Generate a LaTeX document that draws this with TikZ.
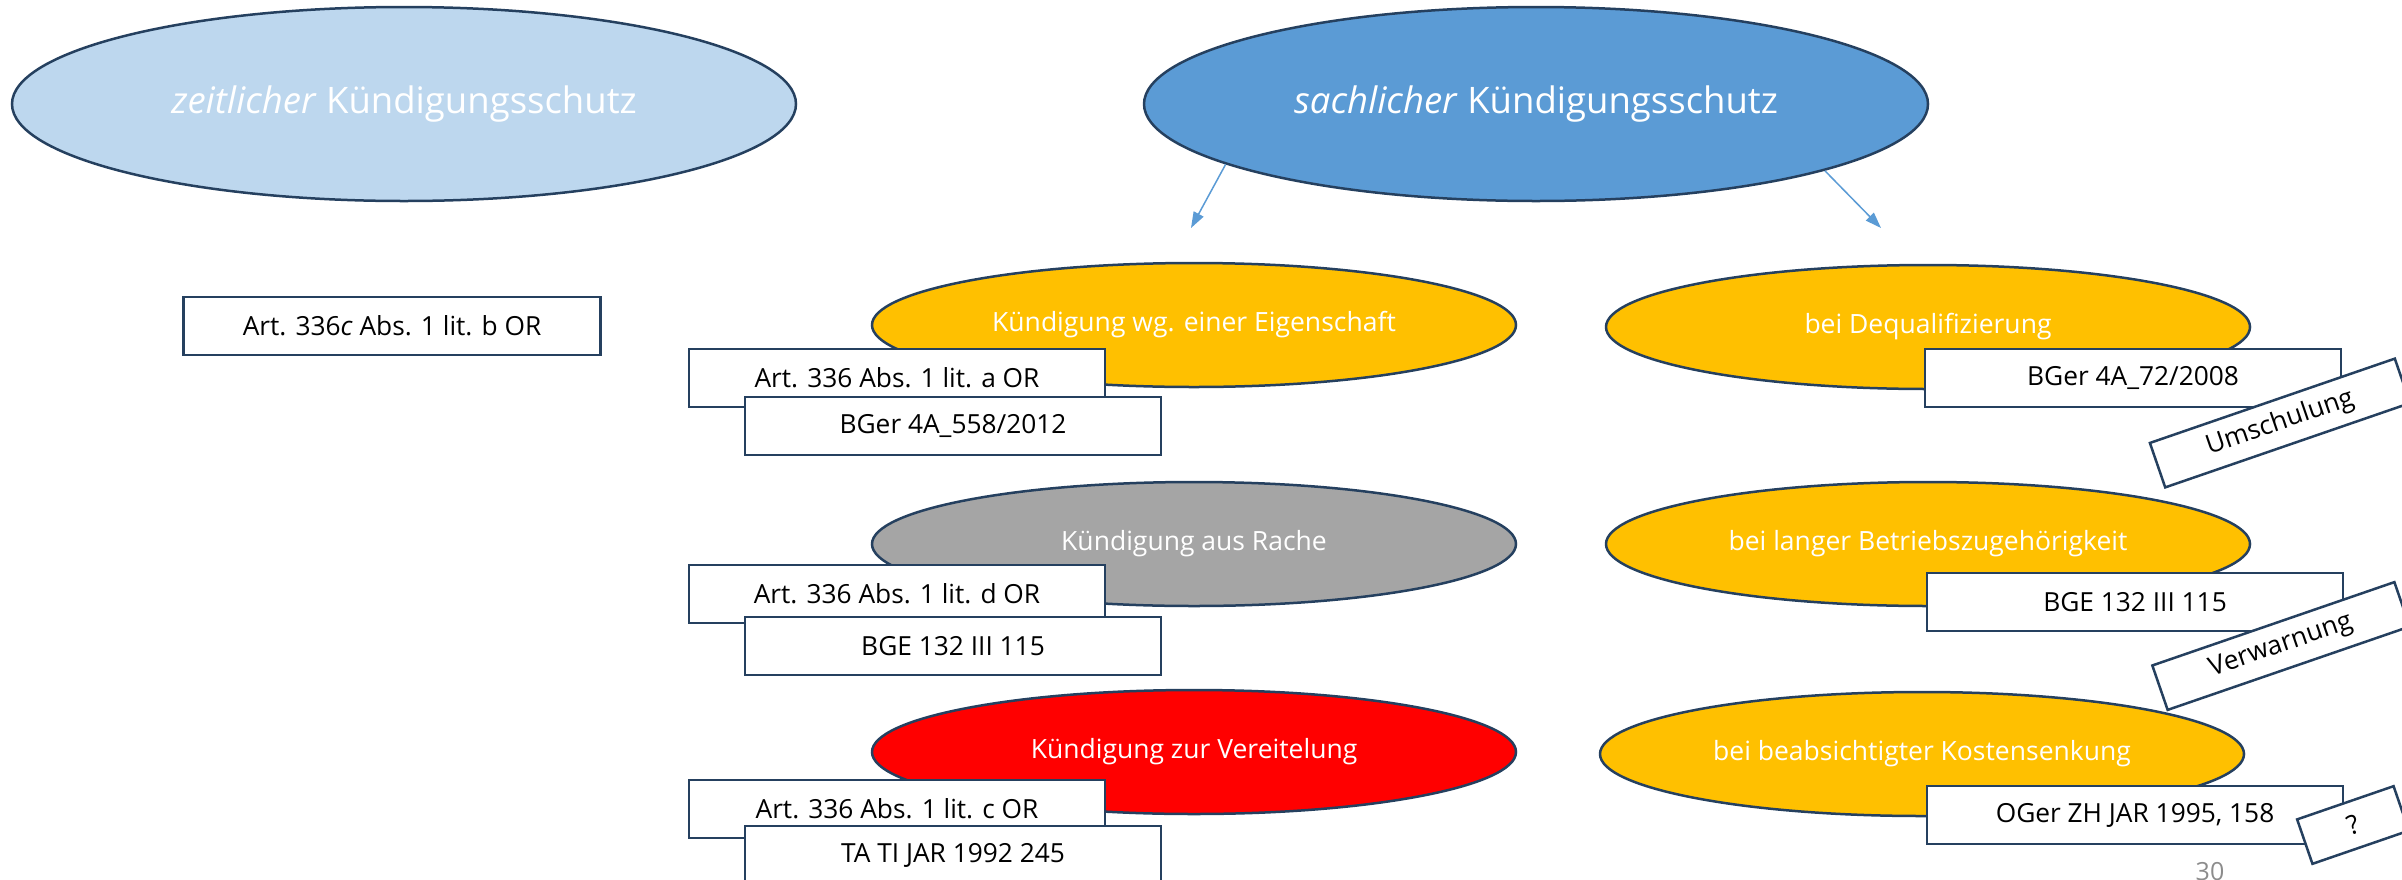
\documentclass[tikz,border=0pt]{standalone}
\usepackage{fontspec}
\setmainfont{Open Sans}
\usetikzlibrary{arrows.meta, shapes.geometric}
\definecolor{cnavy}{HTML}{25405F}
\definecolor{clight}{HTML}{BDD7EE}
\definecolor{cblue}{HTML}{5B9BD5}
\definecolor{cgold}{HTML}{FFC000}
\definecolor{cgrey}{HTML}{A5A5A5}
\definecolor{cred}{HTML}{FF0000}
\definecolor{cnum}{HTML}{8C8C8C}
\tikzset{
  every picture/.style={line width=2.5pt},
  head/.style={ellipse, draw=cnavy, fill=#1, text=white, minimum width=784pt, minimum height=194pt, inner sep=0pt, font=\fontsize{36.5}{44}\selectfont},
  case/.style={ellipse, draw=cnavy, fill=#1, text=white, minimum width=644pt, minimum height=124pt, inner sep=0pt, font=\fontsize{26.5}{32}\selectfont},
  case/.default=cgold,
  ref/.style={draw=cnavy, fill=white, minimum width=#1, minimum height=58pt, inner sep=0pt, font=\fontsize{26.3}{32}\selectfont},
  ref/.default=416pt,
  tag/.style={draw=cnavy, fill=white, rotate=19, minimum width=#1, minimum height=47pt, inner sep=0pt, font=\fontsize{26.3}{32}\selectfont},
  arrow/.style={-{Triangle[length=16pt, width=11pt]}, draw=cblue, line width=1.5pt},
}

\begin{document}
\begin{tikzpicture}[x=1pt, y=-1pt]
  \useasboundingbox (0,0) rectangle (2402,879);
  % the two kinds of protection
  \node[head=clight] (zeit) at (404,104) {\textit{zeitlicher} Kündigungsschutz};
  \node[head=cblue] (sach) at (1536,104) {\textit{sachlicher} Kündigungsschutz};
  \coordinate (lend) at (1191,228);
  \coordinate (rend) at (1881,228);
  \draw[arrow] (sach.191) -- (lend);
  \draw[arrow] (sach.347) -- (rend);

  \node[ref=417pt] (zeitart) at (392,326) {Art. 336\textit{c} Abs. 1 lit. b OR};

  % left column
  \node[case] (eigen) at (1194,325) {Kündigung wg. einer Eigenschaft};
  \node[ref] (eigenart) at (897,378) {Art. 336 Abs. 1 lit. a OR};
  \node[ref] (eigenbg) at (953,426) {BGer 4A\_558/2012};

  \node[case=cgrey] (rache) at (1194,544) {Kündigung aus Rache};
  \node[ref] (racheart) at (897,594) {Art. 336 Abs. 1 lit. d OR};
  \node[ref] (rachebg) at (953,646) {BGE 132 III 115};

  \node[case=cred] (verei) at (1194,752) {Kündigung zur Vereitelung};
  \node[ref] (vereiart) at (897,809) {Art. 336 Abs. 1 lit. c OR};
  \node[ref] (vereibg) at (953,855) {TA TI JAR 1992 245};

  % right column
  \node[case] (dequal) at (1928,327) {bei Dequalifizierung};
  \node[ref] (dequalbg) at (2133,378) {BGer 4A\_72/2008};
  \node[case] (lange) at (1928,544) {bei langer Betriebszugehörigkeit};
  \node[ref] (langebg) at (2135,602) {BGE 132 III 115};
  \node[case] (kosten) at (1922,754) {bei beabsichtigter Kostensenkung};
  \node[ref] (kostenbg) at (2135,815) {OGer ZH JAR 1995, 158};

  \node[tag=259pt] (umsch) at (2280,423) {Umschulung};
  \node[tag=256pt] (verw) at (2281,646) {Verwarnung};
  \node[tag=102pt] (frage) at (2353,825) {?};

  \node[font=\fontsize{25}{30}\selectfont, text=cnum, anchor=base, inner sep=0pt] (pnum) at (2210,880) {30};
\end{tikzpicture}
\end{document}
